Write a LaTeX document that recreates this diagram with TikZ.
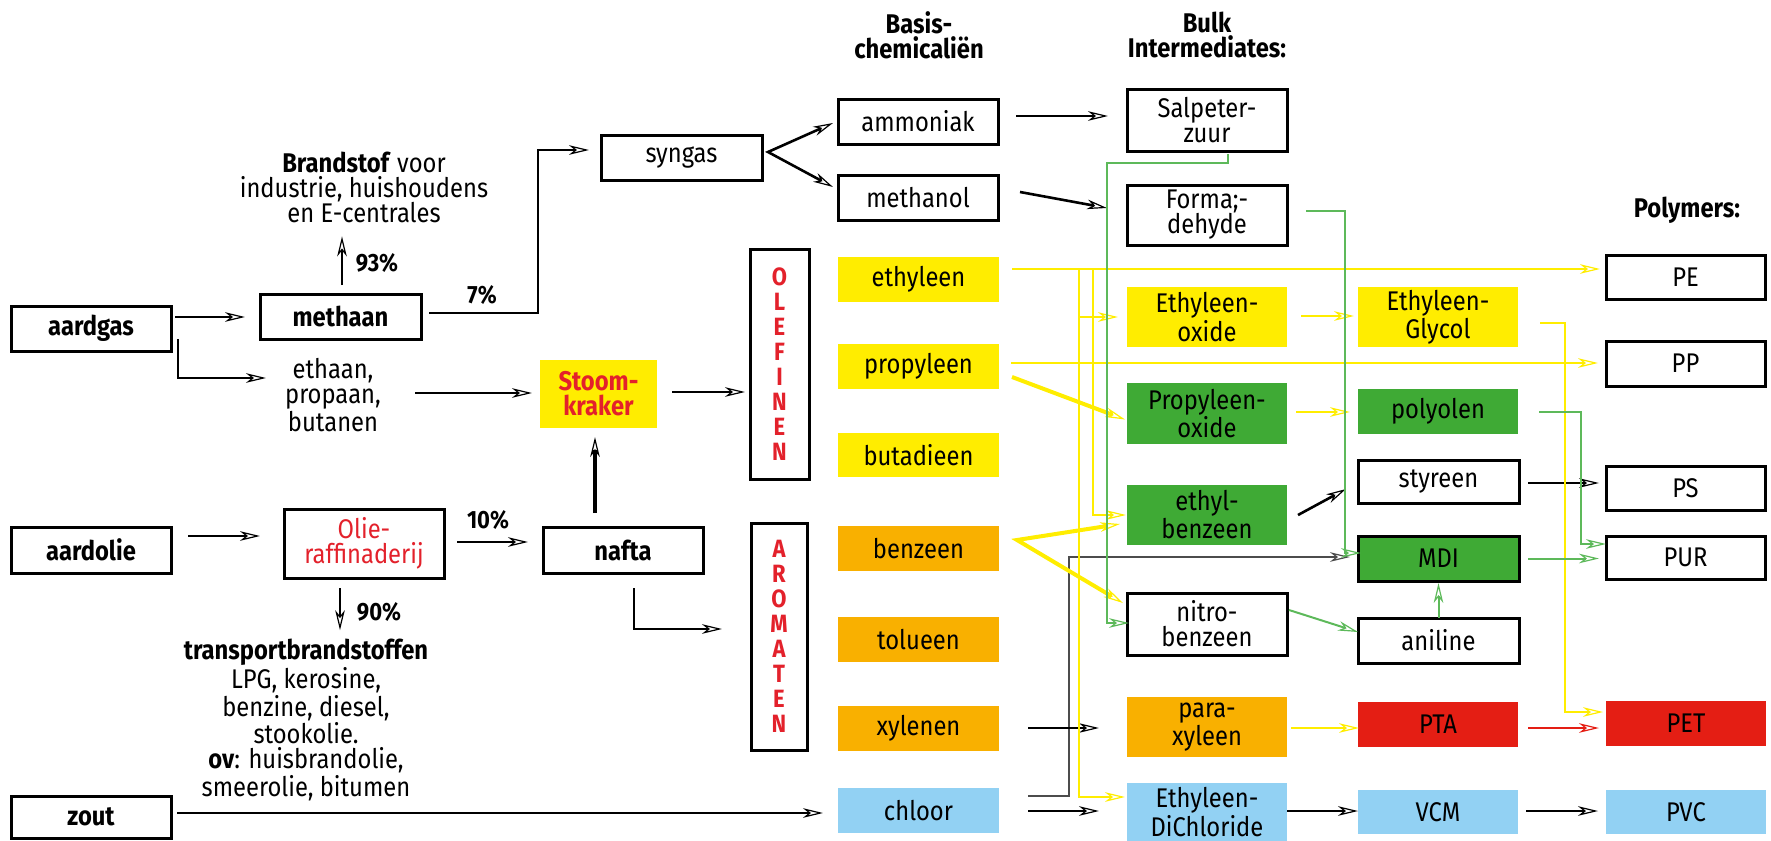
\documentclass[tikz,border=0pt]{standalone}
\usepackage{fontspec}
\setmainfont{Fira Sans}[FakeStretch=0.88]
\usetikzlibrary{arrows.meta,calc}

\definecolor{cyel}{HTML}{FFED00}
\definecolor{corg}{HTML}{F9B000}
\definecolor{cgrn}{HTML}{3FAA35}
\definecolor{cblu}{HTML}{92D1F3}
\definecolor{cred}{HTML}{E41E14}
\definecolor{ctxr}{HTML}{E3212B}
\definecolor{clgr}{HTML}{5DB95A}

% box from corner (x1,y1) to (x2,y2), in pixel units
\newcommand\chembox[7]{\node[#6, minimum width={(#4-#2)*0.5bp}, minimum height={(#5-#3)*0.5bp}] (#1) at ({(#2+#4)/2},{(#3+#5)/2}) {#7};}

\begin{document}
\begin{tikzpicture}[x=0.5bp, y=-0.5bp,
  every node/.style={font=\fontsize{13.5bp}{12.5bp}\selectfont, inner sep=0pt, outer sep=0pt, align=center},
  bold/.style={font=\fontsize{13.5bp}{12.5bp}\selectfont\bfseries},
  pct/.style={font=\fontsize{12.5bp}{12.5bp}\selectfont\bfseries},
  box/.style={draw=black, line width=1.5bp, fill=white},
  yel/.style={fill=cyel},
  org/.style={fill=corg},
  grn/.style={fill=cgrn},
  blu/.style={fill=cblu},
  rd/.style={fill=cred},
  letters/.style={font=\fontsize{12.5bp}{12.5bp}\selectfont\bfseries, text=ctxr},
  >={Stealth[length=10bp,width=4.8bp,inset=3bp,open,line width=0.6bp]},
  arb/.style={->, line width=1.3bp, black},
  arbk/.style={->, line width=2bp, black},
  arbm/.style={->, line width=0.9bp, black},
  arbt/.style={->, line width=0.7bp, black!70},
  ary/.style={->, line width=1.4bp, cyel},
  aryk/.style={->, line width=2bp, cyel},
  arg/.style={->, line width=1bp, clgr},
  argt/.style={->, line width=0.8bp, clgr},
  arr/.style={->, line width=1.2bp, cred}
]
\useasboundingbox (0,0) rectangle (1771,841);

% raw materials
\chembox{aardgas}{11}{306}{171}{351}{box,bold}{aardgas}
\chembox{aardolie}{11}{527}{171}{573}{box,bold}{aardolie}
\chembox{zout}{11}{796}{171}{838}{box,bold}{zout}

% first processing steps
\chembox{methaan}{260}{294}{421}{339}{box,bold}{methaan}
\chembox{raff}{284}{509}{444}{578}{box,text=ctxr}{Olie-\\raffinaderij}
\chembox{nafta}{543}{527}{703}{573}{box,bold}{nafta}
\chembox{syngas}{601}{135}{762}{180}{box}{syngas}
\chembox{stoom}{540}{360}{657}{428}{yel,bold,text=ctxr}{Stoom-\\kraker}
\chembox{olef}{750}{249}{809}{479}{box,letters}{O\\L\\E\\F\\I\\N\\E\\N}
\chembox{arom}{751}{523}{807}{750}{box,letters}{A\\R\\O\\M\\A\\T\\E\\N}

% free texts
\node (fuel) at (364,187) {\textbf{Brandstof} voor\\industrie, huishoudens\\en E-centrales};
\node[pct] (p93) at (377,263) {93\%};
\node[pct] (p7) at (482,295) {7\%};
\node[minimum width=60bp] (ethaan) at (333,395) {ethaan,\\propaan,\\butanen};
\node[pct] (p10) at (488,520) {10\%};
\node[pct] (p90) at (379,612) {90\%};
\node (trans) at (306,720) {\textbf{transportbrandstoffen}\\LPG, kerosine,\\benzine, diesel,\\stookolie.\\\textbf{ov}: huisbrandolie,\\smeerolie, bitumen};

% column headers
\node[bold] (hbasis) at (919,35) {Basis-\\chemicaliën};
\node[bold] (hbulk) at (1207,35) {Bulk\\Intermediates:};
\node[bold] (hpoly) at (1687,210) {Polymers:};

% base chemicals
\chembox{ammoniak}{838}{99}{998}{144}{box}{ammoniak}
\chembox{methanol}{838}{175}{998}{220}{box}{methanol}
\chembox{ethyleen}{838}{257}{999}{302}{yel}{ethyleen}
\chembox{propyleen}{838}{344}{999}{389}{yel}{propyleen}
\chembox{butadieen}{838}{433}{999}{477}{yel}{butadieen}
\chembox{benzeen}{838}{526}{999}{571}{org}{benzeen}
\chembox{tolueen}{838}{617}{999}{662}{org}{tolueen}
\chembox{xylenen}{838}{706}{999}{751}{org}{xylenen}
\chembox{chloor}{838}{788}{999}{833}{blu}{chloor}

% bulk intermediates
\chembox{salp}{1127}{89}{1287}{151}{box}{Salpeter-\\zuur}
\chembox{forma}{1127}{185}{1287}{245}{box}{Forma;-\\dehyde}
\chembox{eo}{1127}{287}{1287}{347}{yel}{Ethyleen-\\oxide}
\chembox{po}{1127}{383}{1287}{444}{grn}{Propyleen-\\oxide}
\chembox{ebz}{1127}{485}{1287}{545}{grn}{ethyl-\\benzeen}
\chembox{nitro}{1127}{593}{1287}{655}{box}{nitro-\\benzeen}
\chembox{px}{1127}{697}{1287}{757}{org}{para-\\xyleen}
\chembox{edc}{1127}{783}{1287}{841}{blu}{Ethyleen-\\DiChloride}

\chembox{eg}{1358}{287}{1518}{347}{yel}{Ethyleen-\\Glycol}
\chembox{polyol}{1358}{389}{1518}{434}{grn}{polyolen}
\chembox{styr}{1358}{460}{1519}{503}{box}{styreen}
\chembox{mdi}{1358}{536}{1519}{581}{box,fill=cgrn}{MDI}
\chembox{anil}{1358}{618}{1519}{663}{box}{aniline}
\chembox{pta}{1358}{702}{1518}{747}{rd}{PTA}
\chembox{vcm}{1358}{790}{1518}{834}{blu}{VCM}

% polymers
\chembox{pe}{1606}{255}{1765}{299}{box}{PE}
\chembox{pp}{1606}{341}{1765}{386}{box}{PP}
\chembox{ps}{1606}{466}{1765}{510}{box}{PS}
\chembox{pur}{1606}{536}{1765}{579}{box}{PUR}
\chembox{pet}{1606}{701}{1766}{746}{rd}{PET}
\chembox{pvc}{1606}{790}{1766}{834}{blu}{PVC}

% black flows, left part
\draw[arb] ($(aardgas.east)+(4,-11.5)$) -- ($(methaan.west)+(-15,0.5)$);
\coordinate (m93) at ($(methaan.north)+(1.5,-9)$);
\draw[arb, shorten >=7bp] (m93) -- (m93 |- fuel.south);
\draw[arb] ($(methaan.east)+(8,-3.5)$) -| ($(syngas.west)+(-63,-7.5)$) -- ($(syngas.west)+(-12,-7.5)$);
\draw[arb] ($(aardgas.east)+(7,10.5)$) |- ($(ethaan.west)+(-7,-17)$);
\draw[arb] ($(ethaan.east)+(22,-2)$) -- ($(stoom.west)+(-8,-1)$);
\draw[arb] ($(aardolie.east)+(17,-14)$) -- ($(raff.west)+(-24,-7.5)$);
\draw[arb] ($(raff.east)+(13,-1.5)$) -- ($(nafta.west)+(-15,-8)$);
\draw[arbk] ($(nafta.north)+(-28,-14)$) -- ($(stoom.south)+(-3.5,9)$);
\coordinate (r90) at ($(raff.south)+(-24,10)$);
\draw[arbm, shorten >=4.5bp] (r90) -- (r90 |- trans.north);
\draw[arb] ($(zout.east)+(6,-4)$) -- ($(chloor.west)+(-15,2.5)$);
\draw[arb] ($(nafta.south)+(11,15)$) |- ($(arom.west)+(-29,-7.5)$);
\draw[arb] ($(stoom.east)+(15,-2)$) -- ($(olef.west)+(-5,28)$);
\draw[arb, <->] ($(ammoniak.west)+(-5,1.5)$) -- ($(syngas.east)+(6,-5.5)$) -- ($(methanol.west)+(-5,-10.5)$);
\draw[arb] ($(ammoniak.east)+(18,-5.5)$) -- ($(salp.west)+(-19,-4)$);
\draw[arb] ($(methanol.east)+(22,-5.5)$) -- ($(forma.west)+(-20,-7)$);

% black flows, right part
\draw[arbt] ($(chloor.east)+(29,-14.5)$) -| ($(mdi.west)+(-289,-1.5)$) -- ($(mdi.west)+(-8,-1.5)$);
\draw[arb] ($(xylenen.east)+(29,-0.5)$) -- ($(px.west)+(-28,1)$);
\draw[arb] ($(chloor.east)+(29,0.5)$) -- ($(edc.west)+(-28,-1)$);
\draw[arb] ($(ebz.east)+(11,0)$) -- ($(styr.west)+(-12,7.5)$);
\draw[arb] ($(styr.east)+(9,1.5)$) -- ($(ps.west)+(-7,-5)$);
\draw[arb] ($(edc.east)+(0,-1)$) -- ($(vcm.west)+(0,-1)$);
\draw[arb] ($(vcm.east)+(8,-1)$) -- ($(pvc.west)+(-8,-1)$);

% ethylene / propylene / benzene flows
\draw[ary] ($(ethyleen.east)+(13,-10.5)$) -- ($(pe.west)+(-6,-8)$);
\draw[ary] ($(ethyleen.east)+(80,-10.5)$) |- ($(edc.west)+(-2,-15)$);
\draw[ary] ($(eo.west)+(-48,0)$) -- ($(eo.west)+(-9,0)$);
\draw[ary] ($(ethyleen.east)+(94,-10.5)$) |- ($(ebz.west)+(-1,0)$);
\draw[ary] ($(propyleen.east)+(12,-3.5)$) -- ($(pp.west)+(-8,-0.5)$);
\draw[aryk] ($(propyleen.east)+(13,10.5)$) -- ($(po.west)+(-2,6)$);
\draw[aryk, <->] ($(ebz.west)+(-7,9)$) -- ($(benzeen.east)+(18,-8.5)$) -- ($(nitro.west)+(-4,-21)$);
\draw[ary] ($(eo.east)+(14,-1)$) -- ($(eg.west)+(-4,-1)$);
\draw[ary] ($(po.east)+(9,-1.5)$) -- ($(polyol.west)+(-8,0.5)$);
\draw[ary] ($(eg.east)+(22,6)$) -| ($(pet.west)+(-41,-11.5)$) -- ($(pet.west)+(-3,-11.5)$);
\draw[ary] ($(px.east)+(4,1)$) -- ($(pta.west)+(1,3.5)$);

% terephthalic acid to PET
\draw[arr] ($(pta.east)+(10,3.5)$) -- ($(pet.west)+(-7,4.5)$);

% nitrogen / polyurethane chain
\draw[argt] ($(salp.south)+(21,3)$) |- ($(salp.south)+(-100,12)$) |- ($(nitro.west)+(2,-1)$);
\draw[arg] ($(forma.east)+(19,-4)$) -| ($(mdi.west)+(-13,-5.5)$) -- ($(mdi.west)+(3,-5.5)$);
\draw[arg] ($(nitro.east)+(2,-14)$) -- ($(anil.west)+(0,-8.5)$);
\draw[arg] (anil.north) -- ($(mdi.south)+(0,2)$);
\draw[arg] ($(polyol.east)+(21,0)$) -| ($(pur.west)+(-25,-13.5)$) -- ($(pur.west)+(0,-13.5)$);
\draw[arg] ($(mdi.east)+(9,0)$) -- ($(pur.west)+(-7,1)$);
\end{tikzpicture}
\end{document}
